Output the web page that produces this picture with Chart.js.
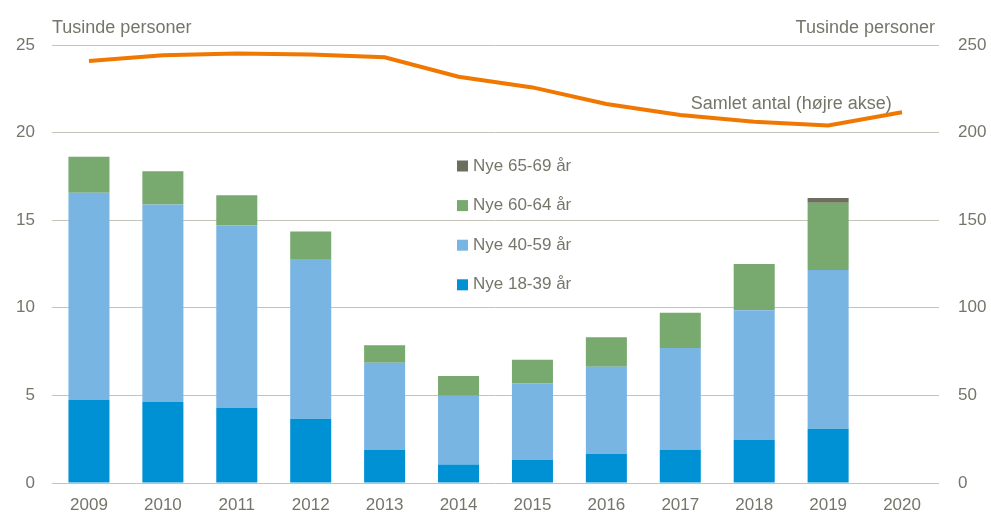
<!DOCTYPE html>
<html>
<head>
<meta charset="utf-8">
<script src="https://cdn.jsdelivr.net/npm/chart.js@4/dist/chart.umd.min.js"></script>
<style>
  html, body { margin: 0; padding: 0; background: #fff; }
  #wrap { width: 991px; height: 518px; }
</style>
</head>
<body>
<div id="wrap"><canvas id="chart" width="991" height="518"></canvas></div>
<script>
var years = ['2009', '2010', '2011', '2012', '2013', '2014', '2015', '2016', '2017', '2018', '2019', '2020'];
var nye1839 = [4.74, 4.64, 4.30, 3.67, 1.90, 1.05, 1.31, 1.66, 1.88, 2.47, 3.10, null];
var nye4059 = [11.83, 11.26, 10.41, 9.12, 4.97, 3.93, 4.38, 4.98, 5.83, 7.39, 9.06, null];
var nye6064 = [2.05, 1.89, 1.71, 1.56, 0.99, 1.13, 1.35, 1.68, 2.01, 2.64, 3.84, null];
var nye6569 = [0, 0, 0, 0, 0, 0, 0, 0, 0, 0, 0.27, null];
var samlet = [240.9, 244.1, 245.2, 244.6, 243.0, 231.9, 225.8, 216.3, 210.0, 206.2, 204.1, 211.6];
var leftTicks = [0, 5, 10, 15, 20, 25];
var rightTicks = [0, 50, 100, 150, 200, 250];

var grey = '#75756a';
var font = { family: '"Liberation Sans", Arial, sans-serif', size: 17 };

// tekster og legend tegnes selv
var extras = {
  id: 'extras',
  afterDraw: function(chart) {
    var ctx = chart.ctx;
    var area = chart.chartArea;
    var x = chart.scales.x;
    var yR = chart.scales.yR;
    ctx.save();
    ctx.font = '18px ' + font.family;
    ctx.fillStyle = grey;
    ctx.textBaseline = 'alphabetic';
    ctx.textAlign = 'left';
    ctx.fillText('Tusinde personer', area.left, 33);
    ctx.textAlign = 'right';
    ctx.fillText('Tusinde personer', area.right - 4, 33);

    ctx.textAlign = 'center';
    var lx = (x.getPixelForValue(9) + x.getPixelForValue(10)) / 2;
    ctx.fillText('Samlet antal (højre akse)', lx, yR.getPixelForValue(217) + 6);

    // legend, omvendt rækkefølge
    var bars = chart.data.datasets.filter(function(d) { return d.type !== 'line'; }).reverse();
    ctx.font = '17px ' + font.family;
    ctx.textAlign = 'left';
    ctx.textBaseline = 'middle';
    bars.forEach(function(d, i) {
      var cy = 166 + i * 39.6;
      ctx.fillStyle = d.backgroundColor;
      ctx.fillRect(457, cy - 5.5, 11, 11);
      ctx.fillStyle = grey;
      ctx.fillText(d.label, 473, cy);
    });
    ctx.restore();
  }
};

new Chart(document.getElementById('chart'), {
  type: 'bar',
  data: {
    labels: years,
    datasets: [
      { type: 'line', label: 'Samlet antal (højre akse)', data: samlet, yAxisID: 'yR',
        borderColor: '#f07800', borderWidth: 4, pointRadius: 0, tension: 0, fill: false, order: 0 },
      { label: 'Nye 18-39 år', data: nye1839, backgroundColor: '#0090d4', yAxisID: 'y', order: 1 },
      { label: 'Nye 40-59 år', data: nye4059, backgroundColor: '#78b5e3', yAxisID: 'y', order: 1 },
      { label: 'Nye 60-64 år', data: nye6064, backgroundColor: '#78a96f', yAxisID: 'y', order: 1 },
      { label: 'Nye 65-69 år', data: nye6569, backgroundColor: '#6e6e5e', yAxisID: 'y', order: 1 }
    ]
  },
  options: {
    responsive: false,
    animation: false,
    layout: { padding: { top: 45, left: 0, right: 0, bottom: 0 } },
    datasets: { bar: { categoryPercentage: 0.555, barPercentage: 1 } },
    plugins: {
      legend: { display: false },
      tooltip: { enabled: false }
    },
    scales: {
      x: {
        stacked: true,
        grid: { display: false, drawTicks: false },
        border: { display: false },
        ticks: { color: grey, font: font, padding: 12 },
        afterFit: function(s) { s.height = 35; }
      },
      y: {
        stacked: true,
        position: 'left',
        min: 0, max: 25,
        afterBuildTicks: function(s) { s.ticks = leftTicks.map(function(v) { return { value: v }; }); },
        grid: { color: '#c4c4b8', lineWidth: 1, drawTicks: false },
        border: { display: false },
        ticks: { color: grey, font: font, padding: 17 },
        afterFit: function(s) { s.width = 52; }
      },
      yR: {
        position: 'right',
        min: 0, max: 250,
        afterBuildTicks: function(s) { s.ticks = rightTicks.map(function(v) { return { value: v }; }); },
        grid: { display: false, drawTicks: false },
        border: { display: false },
        ticks: { color: grey, font: font, padding: 19 },
        afterFit: function(s) { s.width = 52; }
      }
    }
  },
  plugins: [extras]
});
</script>
</body>
</html>
